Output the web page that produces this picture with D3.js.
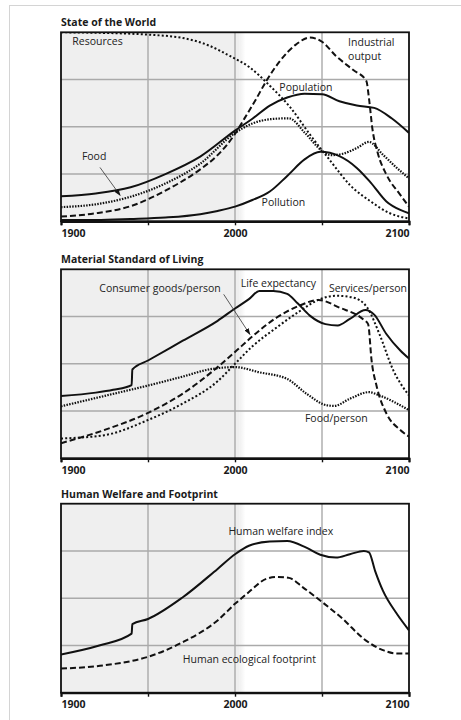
<!DOCTYPE html>
<html>
<head>
<meta charset="utf-8">
<style>
body { margin: 0; background: #fff; }
svg { display: block; font-family: "Open Sans", "DejaVu Sans", sans-serif; }
.title { font-size: 10.5px; font-weight: bold; fill: #1a1a1a; }
.lbl { font-size: 10.5px; fill: #222; }
.tick text { font-size: 10.5px; font-weight: bold; fill: #1a1a1a; font-family: "Open Sans", sans-serif; }
</style>
</head>
<body>
<svg id="chart" width="461" height="720"></svg>
<script src="https://cdn.jsdelivr.net/npm/d3@7"></script>
<script>
// x axis
const xTicks = [1900, 1950, 2000, 2050, 2100];
const xTickLabels = {1900: "1900", 2000: "2000", 2100: "2100"};
const panelTitles = ["State of the World", "Material Standard of Living", "Human Welfare and Footprint"];

// State of the World  [year, value]
const resources = [[1900,4.0],[1920,3.99],[1940,3.97],[1950,3.95],[1970,3.88],[1985,3.72],[1997,3.5],[2008,3.27],[2020,2.87],[2032,2.4],[2043,1.84],[2055,1.27],[2066,0.77],[2078,0.42],[2089,0.17],[2100,0.06]];
const population = [[1900,0.53],[1920,0.59],[1940,0.72],[1960,1.0],[1980,1.37],[2000,1.92],[2010,2.17],[2020,2.45],[2030,2.62],[2040,2.7],[2050,2.69],[2060,2.54],[2070,2.45],[2080,2.4],[2090,2.18],[2100,1.87]];
const food = [[1900,0.3],[1920,0.36],[1940,0.52],[1960,0.8],[1980,1.22],[2000,1.87],[2010,2.07],[2020,2.16],[2031,2.18],[2040,1.88],[2050,1.49],[2055,1.4],[2062,1.43],[2070,1.55],[2077,1.68],[2085,1.41],[2093,1.13],[2100,0.91]];
const industrialOutput = [[1900,0.1],[1920,0.17],[1940,0.32],[1960,0.65],[1980,1.1],[1990,1.4],[2000,1.85],[2005,2.15],[2012,2.58],[2018,2.97],[2026,3.4],[2035,3.74],[2043,3.89],[2050,3.8],[2058,3.5],[2068,3.2],[2075.5,2.97],[2077,2.6],[2079,1.95],[2082,1.45],[2087,0.99],[2095,0.56],[2100,0.31]];
const pollution = [[1900,0.03],[1920,0.03],[1940,0.05],[1960,0.08],[1980,0.15],[1990,0.22],[2000,0.31],[2010,0.45],[2020,0.63],[2030,0.96],[2040,1.31],[2049,1.47],[2060,1.38],[2070,1.13],[2078,0.82],[2087,0.42],[2095,0.24],[2100,0.17]];

// Material Standard of Living
const lifeExpectancy = [[1900,1.32],[1920,1.39],[1930,1.45],[1940.6,1.55],[1941,1.88],[1950,2.07],[1970,2.49],[1990,2.91],[2000,3.17],[2008,3.37],[2014,3.54],[2022,3.54],[2030,3.48],[2036,3.28],[2043,3.02],[2052,2.84],[2059,2.81],[2066,2.95],[2075,3.14],[2080,3.04],[2087,2.63],[2095,2.28],[2100,2.11]];
const consumerGoods = [[1900,0.32],[1925,0.6],[1950,0.96],[1970,1.37],[1990,1.93],[2000,2.25],[2010,2.58],[2024,2.98],[2037,3.23],[2048,3.35],[2060,3.19],[2074,2.93],[2076.5,2.84],[2078.5,2.07],[2081.5,1.51],[2087,0.95],[2095,0.6],[2100,0.46]];
const services = [[1900,0.42],[1925,0.49],[1950,0.81],[1970,1.16],[1990,1.63],[2000,2.0],[2010,2.37],[2024,2.77],[2037,3.11],[2049,3.37],[2058,3.44],[2068,3.4],[2076,3.19],[2083,2.63],[2091,1.86],[2100,1.33]];
const foodPerPerson = [[1900,1.1],[1925,1.32],[1950,1.54],[1970,1.73],[1985,1.88],[2000,1.93],[2014,1.82],[2030,1.68],[2041,1.37],[2053,1.12],[2057,1.11],[2066,1.26],[2077,1.4],[2083,1.33],[2100,1.02]];

// Human Welfare and Footprint
const welfare = [[1900,0.81],[1922,1.0],[1940.6,1.25],[1941,1.45],[1950,1.56],[1970,2.02],[1990,2.62],[2000,2.93],[2008,3.11],[2020,3.2],[2030,3.21],[2041,3.07],[2049,2.92],[2058,2.86],[2066,2.93],[2074,3.0],[2077,2.97],[2080.5,2.58],[2085,2.16],[2093,1.67],[2100,1.32]];
const footprint = [[1900,0.51],[1925,0.58],[1950,0.76],[1970,1.07],[1990,1.53],[2000,1.88],[2008,2.13],[2018,2.41],[2024,2.45],[2031,2.43],[2039,2.23],[2050,1.92],[2062,1.56],[2074,1.14],[2085,0.9],[2093,0.83],[2100,0.83]];

const styles = {
  solid: null,
  dashed: "6,3",
  dotted: "2,2.2",
  fine: "1.5,1.3"
};

const panels = [
  { top: 32.3, series: [
      {data: resources, style: "dotted"},
      {data: food, style: "fine"},
      {data: industrialOutput, style: "dashed"},
      {data: pollution, style: "solid"},
      {data: population, style: "solid"}],
    labels: [["Resources",1906.5,3.74],["Industrial",2065,3.7],["output",2065,3.42],["Population",2025.5,2.75],["Food",1912,1.3],["Pollution",2015.3,0.32]],
    arrow: [[1922.4,1.14],[1934,0.55]] },
  { top: 269.3, series: [
      {data: foodPerPerson, style: "fine"},
      {data: services, style: "dotted"},
      {data: consumerGoods, style: "dashed"},
      {data: lifeExpectancy, style: "solid"}],
    labels: [["Consumer goods/person",1922,3.51],["Life expectancy",2003.3,3.63],["Services/person",2054,3.51],["Food/person",2040.2,0.77]],
    arrow: [[1993.5,3.47],[2008.6,2.62]] },
  { top: 503.7, series: [
      {data: footprint, style: "dashed"},
      {data: welfare, style: "solid"}],
    labels: [["Human welfare index",1996.2,3.33],["Human ecological footprint",1970,0.62]],
    arrow: null }
];

const svg = d3.select("#chart");
const plotH = 189;
const x = d3.scaleLinear().domain([1900, 2100]).range([61, 409]);

// faint page frame
svg.append("rect").attr("x", 9.5).attr("y", 5.5).attr("width", 470).attr("height", 730)
  .style("fill", "none").style("stroke", "#d4d4d4").style("stroke-width", 1);

const defs = svg.append("defs");
const grad = defs.append("linearGradient").attr("id", "fade");
grad.append("stop").attr("offset", "0%").attr("stop-color", "#efefef");
grad.append("stop").attr("offset", "100%").attr("stop-color", "#ffffff");
defs.append("marker").attr("id", "head").attr("viewBox", "0 0 10 10")
  .attr("refX", 9).attr("refY", 5).attr("markerWidth", 7).attr("markerHeight", 7)
  .attr("orient", "auto").attr("markerUnits", "userSpaceOnUse")
  .append("path").attr("d", "M0,1.5L10,5L0,8.5Z").style("fill", "#111");

panels.forEach((p, pi) => {
  const y = d3.scaleLinear().domain([0, 4]).range([p.top + plotH, p.top]);
  const g = svg.append("g");

  defs.append("clipPath").attr("id", "clip" + pi).append("rect")
    .attr("x", x(1900)).attr("y", p.top).attr("width", x(2100) - x(1900)).attr("height", plotH);

  // historical shading
  g.append("rect").attr("x", x(1900)).attr("y", p.top)
    .attr("width", x(2002.5) - x(1900)).attr("height", plotH).style("fill", "#efefef");
  g.append("rect").attr("x", x(2002.5)).attr("y", p.top)
    .attr("width", x(2006) - x(2002.5)).attr("height", plotH).style("fill", "url(#fade)");

  // grid
  g.selectAll("line.vg").data([1950, 2000, 2050]).enter().append("line")
    .attr("x1", d => x(d)).attr("x2", d => x(d)).attr("y1", p.top).attr("y2", p.top + plotH)
    .style("stroke", "#aaaaaa").style("stroke-width", 1.4);
  g.selectAll("line.hg").data([1, 2, 3]).enter().append("line")
    .attr("x1", x(1900)).attr("x2", x(2100)).attr("y1", d => y(d)).attr("y2", d => y(d))
    .style("stroke", "#aaaaaa").style("stroke-width", 1.4);

  // curves
  const line = d3.line().x(d => x(d[0])).y(d => y(d[1])).curve(d3.curveMonotoneX);
  g.append("g").attr("clip-path", "url(#clip" + pi + ")")
    .selectAll("path").data(p.series).enter().append("path")
    .attr("d", s => line(s.data))
    .style("fill", "none").style("stroke", "#111")
    .style("stroke-width", s => s.style === "fine" ? 2.2 : 2)
    .style("stroke-linejoin", "round")
    .style("stroke-dasharray", s => styles[s.style]);

  // box
  g.append("rect").attr("x", x(1900)).attr("y", p.top).attr("width", x(2100) - x(1900)).attr("height", plotH)
    .style("fill", "none").style("stroke", "#111").style("stroke-width", 1.8);

  // x axis
  const ax = g.append("g").attr("transform", "translate(0," + (p.top + plotH) + ")")
    .call(d3.axisBottom(x).tickValues(xTicks).tickSize(4).tickPadding(4)
      .tickFormat(d => xTickLabels[d] || ""));
  ax.select(".domain").style("stroke", "#111").style("stroke-width", 2.2);
  ax.selectAll(".tick line").style("stroke", "#111").style("stroke-width", 1.4);
  ax.selectAll(".tick text").attr("dy", "0.71em")
    .attr("text-anchor", d => d === 1900 ? "start" : d === 2100 ? "end" : "middle");

  // title
  svg.append("text").attr("class", "title").attr("x", x(1900)).attr("y", p.top - 6)
    .text(panelTitles[pi]);

  // series labels
  g.selectAll("text.lbl").data(p.labels).enter().append("text")
    .attr("class", "lbl").attr("x", d => x(d[1])).attr("y", d => y(d[2])).text(d => d[0]);

  if (p.arrow) {
    g.append("line")
      .attr("x1", x(p.arrow[0][0])).attr("y1", y(p.arrow[0][1]))
      .attr("x2", x(p.arrow[1][0])).attr("y2", y(p.arrow[1][1]))
      .style("stroke", "#333").style("stroke-width", 0.8).attr("marker-end", "url(#head)");
  }
});
</script>
</body>
</html>
